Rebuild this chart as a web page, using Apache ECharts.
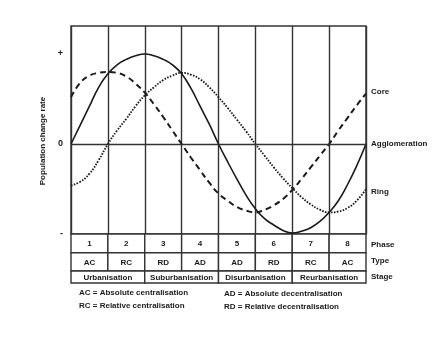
<!DOCTYPE html>
<html>
<head>
<meta charset="utf-8">
<script src="https://cdn.jsdelivr.net/npm/echarts@6/dist/echarts.min.js"></script>
<style>
  html, body { margin: 0; padding: 0; background: #fff; }
  #chart { width: 444px; height: 344px; }
</style>
</head>
<body>
<div id="chart"></div>
<script>
// phase position (0..8, quarter steps) at which each curve value was read
const phases = [0, 0.25, 0.5, 0.75, 1, 1.25, 1.5, 1.75, 2, 2.25, 2.5, 2.75, 3, 3.25, 3.5, 3.75,
    4, 4.25, 4.5, 4.75, 5, 5.25, 5.5, 5.75, 6, 6.25, 6.5, 6.75, 7, 7.25, 7.5, 7.75, 8]
const agglomeration = [0, 0.21, 0.42, 0.63, 0.78, 0.88, 0.94, 0.98, 1.0, 0.98, 0.94, 0.88, 0.78, 0.62, 0.42, 0.22,
    0, -0.20, -0.39, -0.57, -0.72, -0.83, -0.90, -0.96, -0.99, -0.97, -0.93, -0.86, -0.76, -0.63, -0.45, -0.24, 0]
const core = [0.52, 0.68, 0.76, 0.79, 0.80, 0.79, 0.75, 0.67, 0.57, 0.44, 0.30, 0.15, 0, -0.15, -0.29, -0.43,
    -0.55, -0.63, -0.70, -0.74, -0.76, -0.73, -0.68, -0.61, -0.51, -0.39, -0.26, -0.13, 0, 0.15, 0.29, 0.43, 0.56]
const ring = [-0.46, -0.42, -0.33, -0.18, 0, 0.15, 0.28, 0.42, 0.54, 0.63, 0.71, 0.76, 0.79, 0.77, 0.72, 0.63,
    0.52, 0.40, 0.27, 0.14, 0, -0.13, -0.26, -0.38, -0.49, -0.59, -0.67, -0.73, -0.76, -0.75, -0.71, -0.63, -0.50]

const phaseLabels = ['1', '2', '3', '4', '5', '6', '7', '8']
const typeLabels = ['AC', 'RC', 'RD', 'AD', 'AD', 'RD', 'RC', 'AC']
const stageLabels = ['Urbanisation', 'Suburbanisation', 'Disurbanisation', 'Reurbanisation']
const rowNames = ['Phase', 'Type', 'Stage']
const yTickLabels = { '1': '+', '0': '0', '-1': '-' }
const notesLeft = ['AC = Absolute centralisation', 'RC = Relative centralisation']
const notesRight = ['AD = Absolute decentralisation', 'RD = Relative decentralisation']

const FONT = '"Liberation Sans", Arial, sans-serif'
const INK = '#1a1a1a'
const RULE = '#333'
// table row edges in px from the table top
const ROW_EDGES = [0, 18.7, 37, 49]

const zip = arr => phases.map((p, i) => [p, arr[i]])

// table cells: [from phase, to phase, row]
const cells = []
const cellText = []
phaseLabels.forEach((t, i) => { cells.push([i, i + 1, 0]); cellText.push(t) })
typeLabels.forEach((t, i) => { cells.push([i, i + 1, 1]); cellText.push(t) })
stageLabels.forEach((t, i) => { cells.push([i * 2, i * 2 + 2, 2]); cellText.push(t) })

const chart = echarts.init(document.getElementById('chart'))

const curve = (name, arr, lineStyle) => ({
    name: name,
    type: 'line',
    xAxisIndex: 0,
    yAxisIndex: 0,
    smooth: true,
    symbol: 'none',
    lineStyle: Object.assign({ color: INK }, lineStyle),
    data: zip(arr),
    z: 3
})

const text = (x, y, str) => ({
    type: 'text',
    x: x,
    y: y,
    style: {
        text: str,
        fill: INK,
        font: 'bold 8px ' + FONT,
        verticalAlign: 'middle'
    }
})

const graphics = [
    text(371, 92, 'Core'),
    text(371, 144, 'Agglomeration'),
    text(371, 192, 'Ring'),
    text(371, 245, rowNames[0]),
    text(371, 261, rowNames[1]),
    text(371, 277, rowNames[2]),
    text(79, 293, notesLeft[0]),
    text(79, 306, notesLeft[1]),
    text(224, 294, notesRight[0]),
    text(224, 307, notesRight[1]),
    {
        type: 'text',
        x: 43,
        y: 141,
        rotation: Math.PI / 2,
        style: {
            text: 'Population change rate',
            fill: INK,
            font: 'bold 8px ' + FONT,
            align: 'center',
            verticalAlign: 'middle'
        }
    }
]

chart.setOption({
    animation: false,
    backgroundColor: '#fff',
    grid: [
        { left: 71, top: 26, width: 295, height: 208, show: true, borderColor: RULE, borderWidth: 1.4, backgroundColor: 'transparent' },
        { left: 71, top: 234, width: 295, height: 49 }
    ],
    xAxis: [
        {
            type: 'value', gridIndex: 0, min: 0, max: 8, interval: 1,
            axisLine: { show: false }, axisTick: { show: false }, axisLabel: { show: false },
            splitLine: { show: true, lineStyle: { color: RULE, width: 1.4 } }
        },
        {
            type: 'value', gridIndex: 1, min: 0, max: 8, show: false
        }
    ],
    yAxis: [
        {
            type: 'value', gridIndex: 0, min: -1, max: 1.311, interval: 1,
            axisLine: { show: false }, axisTick: { show: false },
            splitLine: { show: false },
            axisLabel: {
                margin: 8,
                color: INK,
                fontFamily: FONT,
                fontSize: 9,
                fontWeight: 'bold',
                formatter: v => yTickLabels[String(Math.round(v * 1000) / 1000)] || ''
            }
        },
        {
            type: 'value', gridIndex: 1, min: 0, max: 49, inverse: true, show: false
        }
    ],
    series: [
        Object.assign(curve('Agglomeration', agglomeration, { type: 'solid', width: 1.6 }), {
            markLine: {
                silent: true,
                symbol: 'none',
                label: { show: false },
                lineStyle: { color: RULE, width: 1.4, type: 'solid' },
                data: [{ yAxis: 0 }]
            }
        }),
        curve('Core', core, { type: [6, 4], width: 2 }),
        curve('Ring', ring, { type: [1.6, 1.4], width: 1.8 }),
        {
            type: 'custom',
            xAxisIndex: 1,
            yAxisIndex: 1,
            encode: { x: [0, 1], y: 2 },
            data: cells,
            renderItem: (params, api) => {
                const row = api.value(2)
                const p0 = api.coord([api.value(0), ROW_EDGES[row]])
                const p1 = api.coord([api.value(1), ROW_EDGES[row + 1]])
                return {
                    type: 'group',
                    children: [
                        {
                            type: 'rect',
                            shape: { x: p0[0], y: p0[1], width: p1[0] - p0[0], height: p1[1] - p0[1] },
                            style: { fill: '#fff', stroke: RULE, lineWidth: 1.4 }
                        },
                        {
                            type: 'text',
                            style: {
                                x: (p0[0] + p1[0]) / 2,
                                y: (p0[1] + p1[1]) / 2 + 0.5,
                                text: cellText[params.dataIndex],
                                fill: INK,
                                font: 'bold 8px ' + FONT,
                                align: 'center',
                                verticalAlign: 'middle'
                            }
                        }
                    ]
                }
            }
        }
    ],
    graphic: graphics
})
</script>
</body>
</html>
